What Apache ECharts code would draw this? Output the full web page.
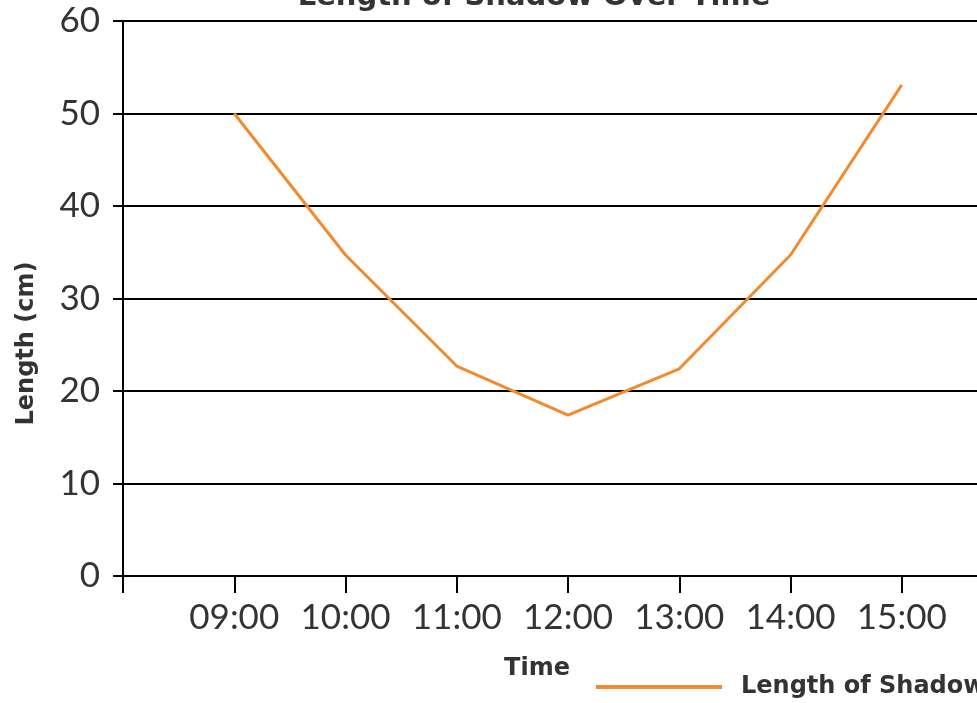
<!DOCTYPE html>
<html><head><meta charset="utf-8">
<script src="https://cdn.jsdelivr.net/npm/echarts@6/dist/echarts.min.js"></script>
<style>html,body{margin:0;padding:0;background:#fff;overflow:hidden;width:977px;height:703px}#c{width:1050px;height:703px}</style>
</head><body><div id="c"></div>
<script>
var categories = ['', '09:00', '10:00', '11:00', '12:00', '13:00', '14:00', '15:00', ''];
var shadowLength = [null, 50, 34.7, 22.7, 17.4, 22.4, 34.7, 53.1, null];
var yTicks = {min: 0, max: 60, interval: 10};
var chart = echarts.init(document.getElementById('c'));
chart.setOption({
  animation: false,
  title: {text: 'Length of Shadow Over Time', left: 529, textAlign: 'center', top: -22,
    textStyle: {fontFamily: 'DejaVu Sans', fontWeight: 'bold', fontSize: 29, color: '#333'}},
  legend: {left: 591, top: 670, itemWidth: 126, itemHeight: 4, itemGap: 10,
    icon: 'rect',
    textStyle: {fontFamily: 'DejaVu Sans', fontWeight: 'bold', fontSize: 24, color: '#333', padding: [0,0,0,14]},
    data: ['Length of Shadow']},
  grid: {left: 123, top: 21, bottom: 127, right: 37, containLabel: false, outerBoundsMode: 'none'},
  xAxis: {type: 'category', data: categories, boundaryGap: false,
    name: 'Time', nameLocation: 'middle', nameGap: 81,
    nameTextStyle: {fontFamily: 'DejaVu Sans', fontWeight: 'bold', fontSize: 24, color: '#333', padding: [0, 62, 0, 0]},
    axisLine: {lineStyle: {color: '#000', width: 2}},
    axisTick: {length: 17, interval: 0, lineStyle: {color: '#000', width: 2}, alignWithLabel: true},
    axisLabel: {fontFamily: 'Lato', fontSize: 35, color: '#333', margin: 24, interval: 0, hideOverlap: false},
    splitLine: {show: false}},
  yAxis: {type: 'value', min: yTicks.min, max: yTicks.max, interval: yTicks.interval,
    name: 'Length (cm)', nameLocation: 'middle', nameGap: 84, nameRotate: 90,
    nameTextStyle: {fontFamily: 'DejaVu Sans', fontWeight: 'bold', fontSize: 24, color: '#333', padding: [0, 90, 0, 0]},
    axisLine: {show: true, lineStyle: {color: '#000', width: 2}},
    axisTick: {show: true, length: 10, lineStyle: {color: '#000', width: 2}},
    axisLabel: {fontFamily: 'Lato', fontSize: 35, color: '#333', margin: 23},
    splitLine: {lineStyle: {color: '#000', width: 2}}},
  series: [{name: 'Length of Shadow', type: 'line', data: shadowLength, symbol: 'none',
    connectNulls: false,
    lineStyle: {color: '#F28A2E', width: 3}, itemStyle: {color: '#F28A2E'}}]
});
</script></body></html>
